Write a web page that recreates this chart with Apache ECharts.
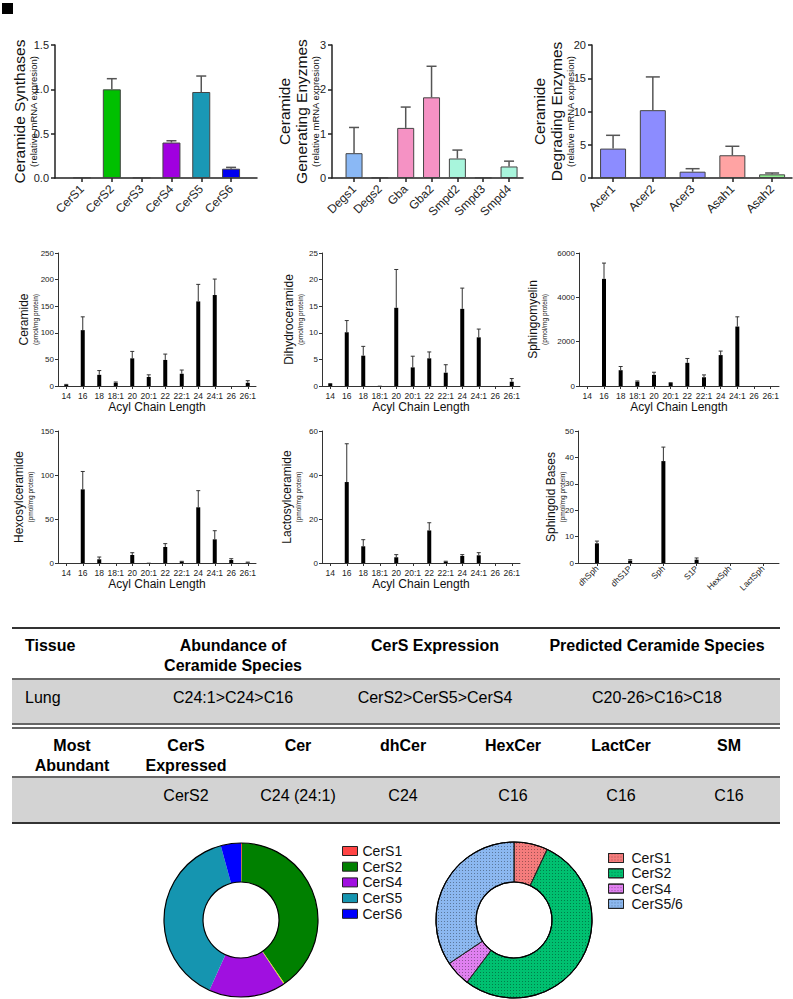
<!DOCTYPE html>
<html><head><meta charset="utf-8">
<script src="https://cdn.jsdelivr.net/npm/echarts@6/dist/echarts.min.js"></script>
<style>html,body{margin:0;padding:0;background:#fff}#c{width:793px;height:999px}</style>
</head><body><div id="c"></div>
<script>
// ---------------- DATA ----------------
const cersNames = ['CerS1','CerS2','CerS3','CerS4','CerS5','CerS6'];
const cersMean  = [0.005, 1.0, 0.005, 0.40, 0.97, 0.105];
const cersErr   = [0, 0.12, 0, 0.02, 0.18, 0.015];

const genNames = ['Degs1','Degs2','Gba','Gba2','Smpd2','Smpd3','Smpd4'];
const genMean  = [0.56, 0.01, 1.13, 1.82, 0.44, 0.01, 0.26];
const genErr   = [0.58, 0, 0.47, 0.70, 0.19, 0, 0.12];

const degNames = ['Acer1','Acer2','Acer3','Asah1','Asah2'];
const degMean  = [4.42, 10.2, 0.95, 3.42, 0.55];
const degErr   = [2.0, 5.0, 0.45, 1.35, 0.2];

const acylChains = ['14','16','18','18:1','20','20:1','22','22:1','24','24:1','26','26:1'];
const cerMean   = [2, 105, 21, 6, 52, 17, 49, 23, 159, 171, 0, 6];
const cerErr    = [1, 25, 8, 1.5, 13, 4, 11, 7, 32, 30, 0, 4];
const dhCerMean = [0.38, 10.1, 5.7, 0.05, 14.7, 3.5, 5.2, 2.5, 14.5, 9.15, 0, 0.8];
const dhCerErr  = [0.07, 2.2, 1.75, 0, 7.2, 2.1, 1.2, 1.5, 3.9, 1.55, 0, 0.6];
const smMean    = [0, 4833, 712, 197, 500, 136, 1045, 394, 1394, 2682, 0, 0];
const smErr     = [0, 712, 167, 30, 121, 14, 197, 106, 182, 439, 0, 0];
const hexMean   = [0, 83.7, 4.2, 0, 9.1, 0.3, 18.2, 1.5, 63.3, 26.9, 3.4, 0.5];
const hexErr    = [0, 20.3, 2.6, 0, 2.6, 0, 3.8, 0.4, 18.9, 9.8, 1.5, 0.5];
const lacMean   = [0, 36.8, 7.6, 0, 2.6, 0, 14.8, 0.6, 3.2, 3.5, 0, 0];
const lacErr    = [0, 17.4, 3, 0, 1.2, 0, 3.5, 0.2, 0.6, 1.2, 0, 0];

const baseNames = ['dhSph','dhS1P','Sph','S1P','HexSph','LactSph'];
const baseMean  = [7.45, 0.9, 38.6, 1.26, 0, 0];
const baseErr   = [0.85, 0.36, 5.3, 0.64, 0, 0];

const pie1Legend = ['CerS1','CerS2','CerS4','CerS5','CerS6'];
const pie2Names  = ['CerS1','CerS2','CerS4','CerS5/6'];
const pie2Values = [7.0, 53.3, 5.3, 34.4];

const tableHead1 = ['Tissue', 'Abundance of\nCeramide Species', 'CerS Expression', 'Predicted Ceramide Species'];
const tableRow1  = ['Lung', 'C24:1>C24>C16', 'CerS2>CerS5>CerS4', 'C20-26>C16>C18'];
const tableHead2 = ['Most\nAbundant', 'CerS\nExpressed', 'Cer', 'dhCer', 'HexCer', 'LactCer', 'SM'];
const tableRow2  = ['', 'CerS2', 'C24 (24:1)', 'C24', 'C16', 'C16', 'C16'];

// ---------------- STYLES ----------------
const FONT = "'Liberation Sans', Arial, Helvetica, sans-serif";
const c1Colors = ['#999999','#00c000','#999999','#a000e0','#1a98b5','#0000f0'];
const c2Colors = ['#8ab8f5','#8ab8f5','#f592c4','#f592c4','#a8f5dc','#a8f5dc','#a8f5dc'];
const c3Colors = ['#8c8cff','#8c8cff','#8c8cff','#ffa3a3','#90ee90'];
const pie1Colors = ['#ff4444','#008000','#e8e800','#a010e0','#1595b0','#0000ff'];
const pie2Colors = ['#f47c7c','#00c070','#e080f0','#8cb8f0'];

const grids = [], xAxes = [], yAxes = [], series = [];

function addBar(o) {
  const k = grids.length;
  grids.push({left:o.left, top:o.top, width:o.width, height:o.height});
  const idx = o.cats.map((_, i) => i);
  xAxes.push({
    type:'value', gridIndex:k, min:o.xmin, max:o.xmax,
    axisLine:{show:true, onZero:false, lineStyle:{color:o.axisColor, width:o.axisW}},
    splitLine:{show:false},
    axisTick:{show:true, customValues:idx, length:o.xTick, lineStyle:{color:o.axisColor, width:o.axisW}},
    axisLabel:{show:true, customValues:idx, formatter:(v) => o.cats[Math.round(v)], rotate:o.rot,
      fontSize:o.xFont, color:'#222', margin:o.xMargin, fontFamily:FONT, hideOverlap:false},
    name:o.xName || '', nameLocation:'middle', nameGap:o.xNameGap || 15, nameMoveOverlap:false,
    nameTextStyle:{fontSize:12, color:'#111', fontFamily:FONT}
  });
  yAxes.push({
    type:'value', gridIndex:k, min:0, max:o.ymax, interval:o.yint,
    axisLine:{show:true, onZero:false, lineStyle:{color:o.axisColor, width:o.axisW}},
    axisTick:{show:true, length:o.yTick, lineStyle:{color:o.axisColor, width:o.axisW}},
    splitLine:{show:false},
    axisLabel:{fontSize:o.yFont, color:'#222', margin:o.yMargin, fontFamily:FONT,
      formatter:o.yFmt || ((v) => String(v))},
    name:o.yName, nameLocation:'middle', nameGap:o.yNameGap, nameRotate:90, nameMoveOverlap:false,
    nameTextStyle:{fontFamily:FONT, color:'#111', align:'center', rich:o.rich}
  });
  series.push({
    type:'bar', xAxisIndex:k, yAxisIndex:k, barWidth:o.barW, animation:false, silent:true, z:2,
    itemStyle:{borderColor:o.barBorder, borderWidth:o.barBorderW},
    data:o.vals.map((v, i) => ({value:[i, v], itemStyle:{color:o.colors[i]}}))
  });
  series.push({
    type:'custom', xAxisIndex:k, yAxisIndex:k, animation:false, silent:true, z:3,
    data:o.vals.map((v, i) => [i, v, v + o.errs[i]]).filter(d => d[2] > d[1]),
    renderItem:(p, api) => {
      const x = api.value(0);
      const lo = api.coord([x, api.value(1)]);
      const hi = api.coord([x, api.value(2)]);
      const c = o.capW / 2;
      const st = {stroke:o.errColor, lineWidth:o.errW};
      return {type:'group', children:[
        {type:'line', shape:{x1:lo[0], y1:lo[1], x2:hi[0], y2:hi[1]}, style:st},
        {type:'line', shape:{x1:hi[0]-c, y1:hi[1], x2:hi[0]+c, y2:hi[1]}, style:st}
      ]};
    }
  });
}

const topStyle = {axisColor:'#222', axisW:1.5, xTick:4, yTick:4, xFont:12, yFont:11, rot:45,
  xMargin:9, yMargin:6, barBorder:'#444', barBorderW:1, errColor:'#555', errW:1.5, top:45, height:133,
  rich:{a:{fontSize:15.5, lineHeight:17, fontFamily:FONT, color:'#111'}, b:{fontSize:9.5, lineHeight:11, fontFamily:FONT, color:'#111'}}};
const midStyle = {axisColor:'#333', axisW:1, xTick:3, yTick:3, xFont:8.5, yFont:8, rot:0,
  xMargin:5, yMargin:4, barBorder:'#000', barBorderW:0, errColor:'#333', errW:1, barW:4, capW:4,
  rich:{a:{fontSize:12, lineHeight:13, fontFamily:FONT, color:'#111'}, b:{fontSize:6.5, lineHeight:10, fontFamily:FONT, color:'#111'}}};
const black12 = new Array(12).fill('#000');

addBar(Object.assign({}, topStyle, {left:55, width:202, xmin:-0.906, xmax:5.87, ymax:1.5, yint:0.5,
  yFmt:(v) => v.toFixed(1), cats:cersNames, vals:cersMean, errs:cersErr, colors:c1Colors, barW:18, capW:10,
  yName:'{a|Ceramide Synthases}\n{b|(relative mRNA expresion)}', yNameGap:16.5}));
addBar(Object.assign({}, topStyle, {left:332, width:191, xmin:-0.853, xmax:6.54, ymax:3, yint:1,
  cats:genNames, vals:genMean, errs:genErr, colors:c2Colors, barW:17, capW:10,
  yName:'{a|Ceramide}\n{a|Generating Enyzmes}\n{b|(relative mRNA expresion)}', yNameGap:11.5}));
addBar(Object.assign({}, topStyle, {left:592, width:200, xmin:-0.53, xmax:4.5, ymax:20, yint:5,
  cats:degNames, vals:degMean, errs:degErr, colors:c3Colors, barW:26, capW:14,
  yName:'{a|Ceramide}\n{a|Degrading Enzymes}\n{b|(relative mRNA expresion)}', yNameGap:16.5}));

addBar(Object.assign({}, midStyle, {left:58, top:253, width:198, height:133, xmin:-0.5, xmax:11.5, ymax:250, yint:50,
  cats:acylChains, vals:cerMean, errs:cerErr, colors:black12, xName:'Acyl Chain Length',
  yName:'{a|Ceramide}\n{b|(pmol/mg protein)}', yNameGap:18}));
addBar(Object.assign({}, midStyle, {left:322, top:253, width:198, height:133, xmin:-0.5, xmax:11.5, ymax:25, yint:5,
  cats:acylChains, vals:dhCerMean, errs:dhCerErr, colors:black12, xName:'Acyl Chain Length',
  yName:'{a|Dihydroceramide}\n{b|(pmol/mg protein)}', yNameGap:17}));
addBar(Object.assign({}, midStyle, {left:579, top:253, width:200, height:133, xmin:-0.5, xmax:11.5, ymax:6000, yint:2000,
  cats:acylChains, vals:smMean, errs:smErr, colors:black12, xName:'Acyl Chain Length',
  yName:'{a|Sphingomyelin}\n{b|(pmol/mg protein)}', yNameGap:30}));
addBar(Object.assign({}, midStyle, {left:58, top:431, width:198, height:132, xmin:-0.5, xmax:11.5, ymax:150, yint:50,
  cats:acylChains, vals:hexMean, errs:hexErr, colors:black12, xName:'Acyl Chain Length',
  yName:'{a|Hexosylceramide}\n{b|(pmol/mg protein)}', yNameGap:23}));
addBar(Object.assign({}, midStyle, {left:322, top:431, width:198, height:132, xmin:-0.5, xmax:11.5, ymax:60, yint:20,
  cats:acylChains, vals:lacMean, errs:lacErr, colors:black12, xName:'Acyl Chain Length',
  yName:'{a|Lactosylceramide}\n{b|(pmol/mg protein)}', yNameGap:19}));
addBar(Object.assign({}, midStyle, {left:578, top:431, width:201, height:132, xmin:-0.57, xmax:5.48, ymax:50, yint:10,
  cats:baseNames, vals:baseMean, errs:baseErr, colors:black12, rot:45, xFont:8.5, xMargin:4,
  yName:'{a|Sphingoid Bases}\n{b|(pmol/mg protein)}', yNameGap:11}));

// ---------------- PIES ----------------
series.push({type:'pie', name:'pie1', center:[241, 920], radius:[38, 77], startAngle:90, clockwise:true,
  animation:false, silent:true, label:{show:false}, labelLine:{show:false},
  itemStyle:{borderWidth:0},
  data:cersNames.map((n, i) => ({name:n, value:cersMean[i], itemStyle:{color:pie1Colors[i]}}))});
series.push({type:'pie', name:'ring1', center:[241, 920], radius:[38, 77], animation:false, silent:true, z:5,
  label:{show:false}, labelLine:{show:false},
  itemStyle:{color:'rgba(0,0,0,0)', borderColor:'#000', borderWidth:1.2},
  data:[{name:'ring1', value:1}]});
const dec = {symbol:'rect', symbolSize:1, dashArrayX:[1, 2], dashArrayY:[1, 2], color:'rgba(0,0,0,0.35)'};
series.push({type:'pie', name:'pie2', center:[514, 920], radius:[38, 78], startAngle:90, clockwise:true,
  animation:false, silent:true, label:{show:false}, labelLine:{show:false},
  itemStyle:{borderColor:'#222', borderWidth:0.8},
  data:pie2Names.map((n, i) => ({name:'R:' + n, value:pie2Values[i], itemStyle:{color:pie2Colors[i], decal:dec}}))});
series.push({type:'pie', name:'ring2', center:[514, 920], radius:[38, 78], animation:false, silent:true, z:5,
  label:{show:false}, labelLine:{show:false},
  itemStyle:{color:'rgba(0,0,0,0)', borderColor:'#000', borderWidth:1.2},
  data:[{name:'ring2', value:1}]});

const legendBase = {orient:'vertical', icon:'rect', itemWidth:15, itemHeight:9, selectedMode:false,
  itemStyle:{borderColor:'#222', borderWidth:1},
  textStyle:{fontSize:14, lineHeight:15, color:'#111', fontFamily:FONT}};
const legends = [
  Object.assign({}, legendBase, {left:337, top:838.5, itemGap:0.7, data:pie1Legend}),
  Object.assign({}, legendBase, {left:603, top:845.5, itemGap:0.3, data:pie2Names.map(n => 'R:' + n),
    formatter:(n) => n.replace('R:', ''), textStyle:{fontSize:14, lineHeight:15, color:'#111', fontFamily:FONT, padding:[0,0,0,3]}})
];

// ---------------- TABLE (graphic) ----------------
const G = [];
G.push({type:'rect', shape:{x:2, y:3, width:11, height:11}, style:{fill:'#000'}});
const tl = 12, tw = 768;
G.push({type:'rect', shape:{x:tl, y:680, width:tw, height:43}, style:{fill:'#d3d3d3'}});
G.push({type:'rect', shape:{x:tl, y:778, width:tw, height:45}, style:{fill:'#d3d3d3'}});
[[628, 2], [679, 1.5], [724, 1.5], [728, 1.5], [777, 1.5], [823, 2]].forEach(([y, w]) => {
  G.push({type:'line', shape:{x1:tl, y1:y, x2:tl + tw, y2:y}, style:{stroke:'#333', lineWidth:w}});
});
const col1 = [25, 233, 435, 657];
const col2 = [72, 186, 298, 403, 513, 621, 729];
function txt(t, x, y, bold, align, va) {
  G.push({type:'text', x:x, y:y, style:{text:t, fill:'#000', fontSize:16, fontWeight:bold ? 'bold' : 'normal',
    fontFamily:FONT, align:align, verticalAlign:va, lineHeight:20}});
}
tableHead1.forEach((t, i) => txt(t, col1[i], 635, true, i === 0 ? 'left' : 'center', 'top'));
tableRow1.forEach((t, i) => txt(t, col1[i], 697, false, i === 0 ? 'left' : 'center', 'middle'));
tableHead2.forEach((t, i) => txt(t, col2[i], 735, true, 'center', 'top'));
tableRow2.forEach((t, i) => { if (t) txt(t, col2[i], 795, false, 'center', 'middle'); });

const chart = echarts.init(document.getElementById('c'), null, {renderer:'svg'});
chart.setOption({
  animation:false,
  backgroundColor:'#fff',
  textStyle:{fontFamily:FONT},
  grid:grids, xAxis:xAxes, yAxis:yAxes, series:series, legend:legends, graphic:G
});
</script></body></html>
